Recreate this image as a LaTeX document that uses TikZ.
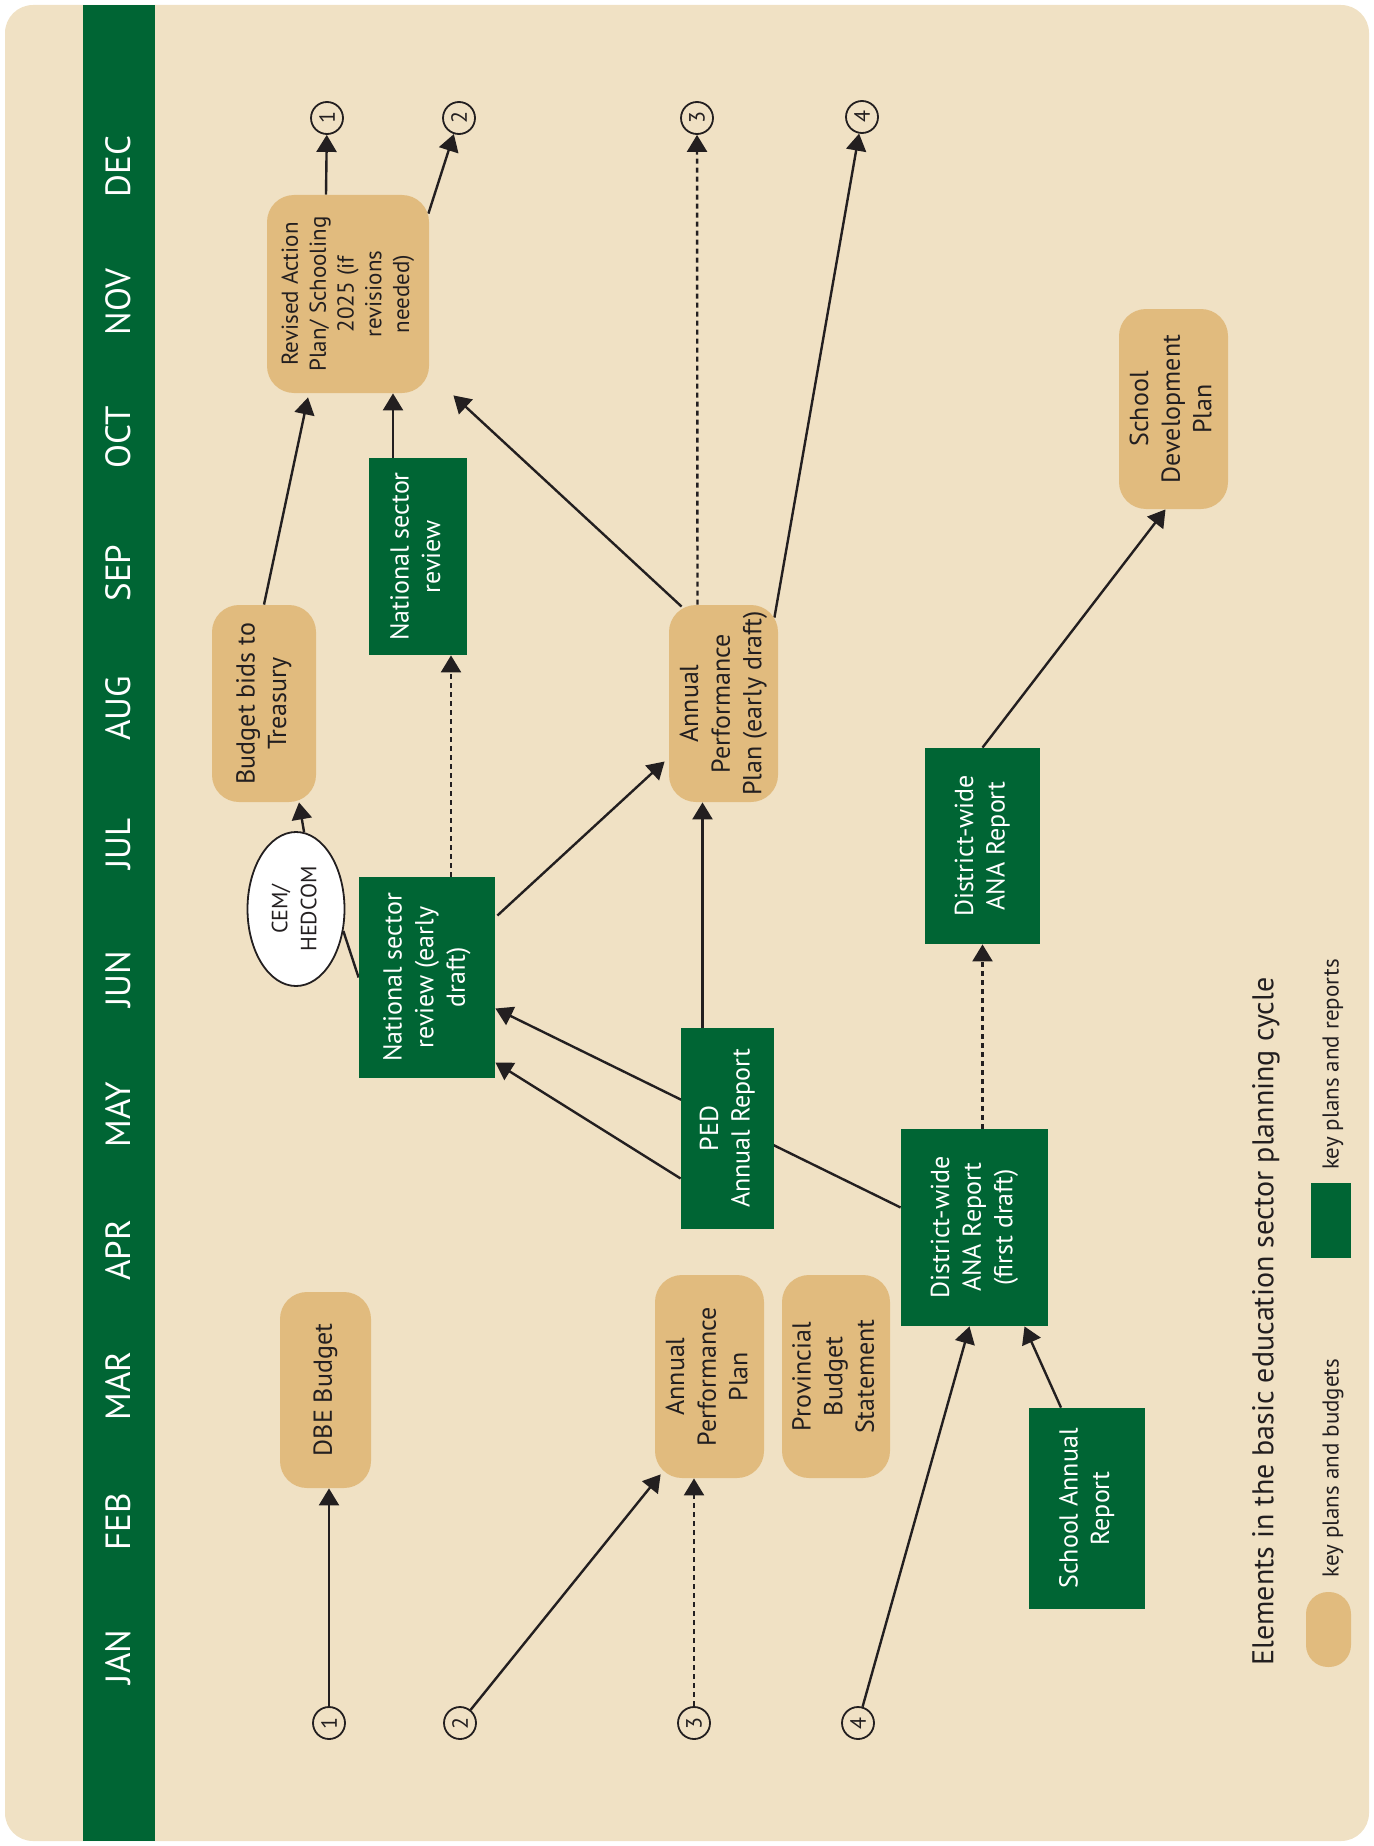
\documentclass[tikz,border=0pt]{standalone}
\usepackage{fontspec}
\setmainfont{PT Sans}
\usetikzlibrary{arrows.meta,calc,shapes.geometric}

\definecolor{paper}{RGB}{240,225,196}
\definecolor{tanbox}{RGB}{225,187,126}
\definecolor{darkgreen}{RGB}{0,101,52}
\definecolor{ink}{RGB}{35,31,32}

\newcommand{\vtext}[1]{\rotatebox{90}{\begin{tabular}{@{}c@{}}#1\end{tabular}}}

\pgfdeclarelayer{bg}
\pgfdeclarelayer{edges}
\pgfsetlayers{bg,edges,main}

\tikzset{
  plan/.style={rectangle, fill=tanbox, rounded corners=13.5pt, inner sep=0pt, text=ink,
    font=\fontsize{13}{15.8}\selectfont},
  report/.style={rectangle, fill=darkgreen, inner sep=0pt, text=white,
    font=\fontsize{13}{15.8}\selectfont},
  month/.style={text=white, rotate=90, font=\fontsize{17.5}{20}\selectfont},
  marker/.style={circle, draw=ink, line width=0.9pt, minimum size=16pt, inner sep=0pt,
    text=ink, font=\fontsize{11}{11}\selectfont},
  arr/.style={draw=ink, line width=1.2pt, -{Triangle[length=8.5pt,width=10pt]}},
  dashline/.style={dash pattern=on 2.5pt off 2pt},
}

\begin{document}
\begin{tikzpicture}[x=0.5pt,y=-0.5pt]
\useasboundingbox (0,0) rectangle (1374,1846);
\begin{pgfonlayer}{bg}
  \fill[paper, rounded corners=14pt] (5,5) rectangle (1369,1841);
  \fill[darkgreen] (83,5) rectangle (155,1841);
\end{pgfonlayer}

% months
\foreach \m [count=\i from 0] in {JAN,FEB,MAR,APR,MAY,JUN,JUL,AUG,SEP,OCT,NOV,DEC}
  \node[month] (m\i) at (118,{1657-135.5*\i}) {\m};

% numbered markers
\node[marker] (c1t) at (327,118) {\rotatebox{90}{1}};
\node[marker] (c2t) at (459,118) {\rotatebox{90}{2}};
\node[marker] (c3t) at (697,118) {\rotatebox{90}{3}};
\node[marker] (c4t) at (862,117) {\rotatebox{90}{4}};
\node[marker] (c1b) at (329,1723) {\rotatebox{90}{1}};
\node[marker] (c2b) at (460,1723) {\rotatebox{90}{2}};
\node[marker] (c3b) at (694,1723) {\rotatebox{90}{3}};
\node[marker] (c4b) at (858,1723) {\rotatebox{90}{4}};

% plans and budgets
\node[plan, minimum width=81pt, minimum height=99pt, font=\fontsize{11.5}{13.9}\selectfont] (rev) at (348,294)
  {\vtext{Revised Action\\Plan/ Schooling\\2025 (if\\revisions\\needed)}};
\node[plan, minimum width=52pt, minimum height=98.5pt] (bud) at (264,703.5) {\vtext{Budget bids to\\Treasury}};
\node[plan, minimum width=54.5pt, minimum height=98.5pt] (appe) at (723.5,703.5) {\vtext{Annual\\Performance\\Plan (early draft)}};
\node[plan, minimum width=54.5pt, minimum height=100pt] (sdp) at (1173.5,409) {\vtext{School\\Development\\Plan}};
\node[plan, minimum width=45.5pt, minimum height=98pt] (dbe) at (325.5,1390) {\vtext{DBE Budget}};
\node[plan, minimum width=54.5pt, minimum height=101.5pt] (app) at (709.5,1376.5) {\vtext{Annual\\Performance\\Plan}};
\node[plan, minimum width=54pt, minimum height=101.5pt] (pbs) at (836,1376.5) {\vtext{Provincial\\Budget\\Statement}};

% reports
\node[report, minimum width=49pt, minimum height=98.5pt] (nsr) at (418,556.5) {\vtext{National sector\\review}};
\node[report, minimum width=57.5pt, minimum height=98pt] (dwa) at (982.5,846) {\vtext{District-wide\\ANA Report}};
\node[report, minimum width=68pt, minimum height=100.5pt] (nsre) at (427,977.5) {\vtext{National sector\\review (early\\draft)}};
\node[report, minimum width=46.5pt, minimum height=100.5pt] (ped) at (727.5,1128.5) {\vtext{PED\\Annual Report}};
\node[report, minimum width=73.5pt, minimum height=98.5pt] (dwf) at (974.5,1227.5) {\vtext{District-wide\\ANA Report\\(first draft)}};
\node[report, minimum width=58pt, minimum height=100.5pt] (sar) at (1087,1508.5) {\vtext{School Annual\\Report}};

\node[ellipse, draw=ink, fill=white, line width=0.9pt, minimum width=48.5pt, minimum height=77pt, inner sep=0pt,
  text=ink, font=\fontsize{11}{14.5}\selectfont] (cem) at (296,909) {\vtext{CEM/\\HEDCOM}};

% legend
\node[rotate=90, text=ink, font=\fontsize{15}{18}\selectfont] (title) at (1266,1321.5)
  {Elements in the basic education sector planning cycle};
\node[plan, minimum width=22.5pt, minimum height=37.5pt, rounded corners=11pt] (keyplan) at (1328.5,1629.5) {};
\node[rotate=90, text=ink, font=\fontsize{11.5}{14}\selectfont] (keyplantext) at (1333,1468) {key plans and budgets};
\node[report, minimum width=20pt, minimum height=37.5pt] (keyrep) at (1331,1220.5) {};
\node[rotate=90, text=ink, font=\fontsize{11.5}{14}\selectfont] (keyreptext) at (1333,1064.5) {key plans and reports};

% connectors
\begin{pgfonlayer}{edges}
  \draw[arr] (c1b) -- (c1b |- dbe.south);
  \draw[arr] (c2b) -- ($(app.south west)+(6,-4)$);
  \draw[arr, dashline] (c3b) -- (c3b |- app.south);
  \draw[arr] (c4b) -- ($(dwf.south)+(-5,0)$);
  \draw[arr] ($(sar.north)+(-26,0)$) -- ($(dwf.south)+(50,0)$);
  \draw[arr, dashline] (dwf.north -| dwa.south) -- (dwa.south);
  \draw[arr] (dwa.north) -- ($(sdp.south)+(-8,0)$);
  \draw[arr] ($(dwf.west)+(0,-20)$) -- ($(nsre.east)+(0,31)$);
  \draw[arr] ($(ped.west)+(0,50)$) -- ($(nsre.east)+(0,85)$);
  \draw[arr] ($(ped.north)+(-25,0)$) -- ($(appe.south)+(-21,0)$);
  \draw[arr] ($(nsre.east)+(2,-62)$) -- ($(appe.west)+(-4,58)$);
  \draw[arr, dashline] ($(nsre.north)+(24,0)$) -- ($(nsr.south)+(33,0)$);
  \draw[draw=ink, line width=1.2pt] (nsre.west) -- (cem.-25);
  \draw[arr] (cem.84) -- ($(bud.south)+(35,0)$);
  \draw[arr, dashline] ($(appe.north)+(-26,0)$) -- (c3t);
  \draw[arr] ($(appe.north east)+(-4,13)$) -- (c4t);
  \draw[arr] ($(appe.north west)+(13,2)$) -- ($(rev.south east)+(24,2)$);
  \draw[arr] ($(nsr.north)+(-25,0)$) -- ($(rev.south)+(45,0)$);
  \draw[arr] (bud.north) -- ($(rev.south)+(-40,4)$);
  \draw[arr] ($(rev.north)+(-22,0)$) -- (c1t);
  \draw[arr] ($(rev.north east)+(-1,19)$) -- (c2t);
\end{pgfonlayer}
\end{tikzpicture}
\end{document}
